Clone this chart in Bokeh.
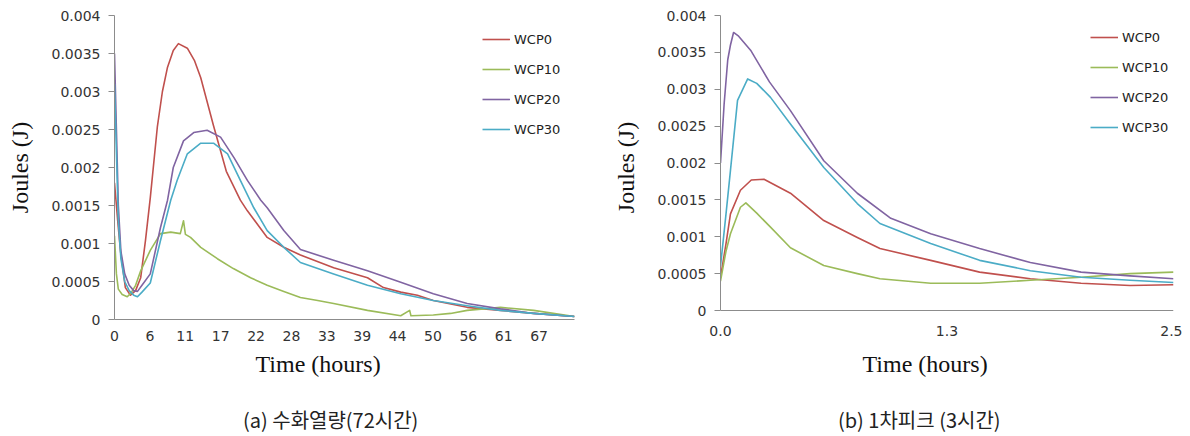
from bokeh.plotting import figure
from bokeh.layouts import row, column
from bokeh.models import Range1d, FixedTicker, Legend, LegendItem, Title, Span, Div
from bokeh.embed import file_html
from bokeh.resources import INLINE

# ---------------- data: (a) 72 hours ----------------
series_names = ["WCP0", "WCP10", "WCP20", "WCP30"]
colors = ["#C0504D", "#9BBB59", "#8064A2", "#4BACC6"]

a_t_wcp0 = [0, 0.5, 0.94, 1.7, 2.5, 3.3, 4.1, 4.85, 5.6, 6.7, 7.5, 8.3, 9.2, 10.0, 11.4, 12.5, 13.5, 15.5, 17.5,
            19.7, 20.8, 23.9, 26.5, 29.1, 34.3, 39.6, 42.1, 44.8, 47.4, 49.9, 55.2, 60.4, 65.6, 72]
a_v_wcp0 = [0.0018, 0.0013, 0.0009, 0.00042, 0.00032, 0.00038, 0.00055, 0.00104, 0.0016, 0.00253, 0.00300,
            0.00332, 0.00354, 0.00363, 0.00357, 0.00341, 0.00318, 0.00255, 0.00195, 0.00157, 0.00143, 0.00108,
            0.00095, 0.00085, 0.00068, 0.00055, 0.00042, 0.00036, 0.00032, 0.00025, 0.00016, 0.00012,
            0.00008, 0.00004]

a_t_wcp10 = [0, 0.3, 0.6, 1.2, 2.0, 2.6, 3.3, 4.1, 5.6, 7.2, 8.8, 10.3, 10.8, 11.1, 11.9, 13.5, 16.1, 18.6,
             21.3, 23.9, 26.5, 29.1, 31.8, 34.3, 39.6, 44.8, 46.2, 46.4, 49.9, 52.6, 55.2, 60.4, 65.6, 72]
a_v_wcp10 = [0.0011, 0.0006, 0.0004, 0.00033, 0.0003, 0.00035, 0.00045, 0.00064, 0.00091, 0.00113, 0.00115,
             0.00113, 0.0013, 0.00112, 0.00108, 0.00095, 0.0008, 0.00067, 0.00055, 0.00045, 0.00037, 0.00029,
             0.00025, 0.00021, 0.00012, 0.00005, 0.00012, 0.00005, 0.00006, 0.00008, 0.00012, 0.00016,
             0.00012, 0.00004]

a_t_wcp20 = [0, 0.3, 0.6, 1.0, 1.6, 2.3, 3.0, 3.6, 4.3, 5.6, 7.2, 8.3, 9.2, 10.8, 12.4, 14.5, 16.6, 18.7,
             20.8, 22.9, 23.9, 26.5, 29.1, 34.3, 39.6, 44.8, 49.9, 55.2, 60.4, 65.6, 72]
a_v_wcp20 = [0.0035, 0.0025, 0.0015, 0.0009, 0.0006, 0.00045, 0.00038, 0.00037, 0.00045, 0.0006, 0.00121,
             0.00157, 0.002, 0.00235, 0.00246, 0.00249, 0.0024, 0.00213, 0.00183, 0.00157, 0.00147, 0.00117,
             0.00092, 0.00078, 0.00064, 0.00049, 0.00034, 0.00021, 0.00014, 0.00008, 0.00004]

a_t_wcp30 = [0, 0.3, 0.6, 1.0, 1.6, 2.3, 3.0, 3.6, 4.3, 5.6, 7.2, 8.8, 9.8, 11.4, 13.5, 15.5, 17.7, 19.7,
             21.8, 23.9, 26.5, 29.1, 34.3, 39.6, 44.8, 49.9, 55.2, 60.4, 65.6, 72]
a_v_wcp30 = [0.0031, 0.0022, 0.0013, 0.0008, 0.0005, 0.00038, 0.00032, 0.0003, 0.00036, 0.00048, 0.00104,
             0.00157, 0.00183, 0.00218, 0.00232, 0.00232, 0.00218, 0.00183, 0.00147, 0.00117, 0.00095,
             0.00075, 0.0006, 0.00045, 0.00034, 0.00025, 0.00018, 0.00012, 0.00008, 0.00004]

a_tick_labels = ["0", "6", "11", "17", "22", "28", "33", "39", "44", "50", "56", "61", "67"]

# ---------------- data: (b) first peak ----------------
b_t_wcp0 = [0, 0.03, 0.055, 0.11, 0.17, 0.24, 0.386, 0.57, 0.755, 0.88, 1.16, 1.43, 1.71, 1.99, 2.26, 2.5]
b_v_wcp0 = [0.00045, 0.0009, 0.00131, 0.00163, 0.00177, 0.00178, 0.00159, 0.00122, 0.00099, 0.00084,
            0.00068, 0.00052, 0.00043, 0.00037, 0.00034, 0.00035]

b_t_wcp10 = [0, 0.03, 0.055, 0.11, 0.14, 0.2, 0.276, 0.386, 0.57, 0.755, 0.88, 1.16, 1.43, 1.71, 1.99, 2.26, 2.5]
b_v_wcp10 = [0.0004, 0.0008, 0.00104, 0.0014, 0.00146, 0.00132, 0.00113, 0.00085, 0.00061, 0.0005, 0.00043,
             0.00037, 0.00037, 0.00041, 0.00045, 0.0005, 0.00052]

b_t_wcp20 = [0, 0.02, 0.04, 0.055, 0.072, 0.1, 0.166, 0.27, 0.386, 0.57, 0.755, 0.94, 1.16, 1.43, 1.71, 1.99,
             2.26, 2.5]
b_v_wcp20 = [0.002, 0.0028, 0.0034, 0.0036, 0.00377, 0.00372, 0.00353, 0.0031, 0.00271, 0.00203, 0.00159,
             0.00125, 0.00104, 0.00084, 0.00065, 0.00052, 0.00047, 0.00043]

b_t_wcp30 = [0, 0.03, 0.055, 0.094, 0.15, 0.2, 0.276, 0.386, 0.57, 0.755, 0.88, 1.16, 1.43, 1.71, 1.99, 2.26, 2.5]
b_v_wcp30 = [0.0006, 0.0013, 0.0019, 0.00285, 0.00314, 0.00308, 0.00289, 0.00253, 0.00194, 0.00145, 0.00118,
             0.00091, 0.00068, 0.00054, 0.00045, 0.00041, 0.00038]

b_ticks = [0, 1.25, 2.5]
b_tick_labels = ["0.0", "1.3", "2.5"]

y_ticks = [0, 0.0005, 0.001, 0.0015, 0.002, 0.0025, 0.003, 0.0035, 0.004]
y_tick_labels = ["0", "0.0005", "0.001", "0.0015", "0.002", "0.0025", "0.003", "0.0035", "0.004"]

caption_a = "(a) 수화열량(72시간)"
caption_b = "(b) 1차피크 (3시간)"
x_title = "Time (hours)"
y_title = "Joules (J)"

TICK_FONT = "DejaVu Sans"
SERIF = "Liberation Serif"
KR = "Noto Sans CJK KR"
AXIS_GRAY = "#8c8c8c"


def style(p, xticks, xlabels):
    p.xgrid.visible = False
    p.ygrid.visible = False
    p.outline_line_color = None
    p.background_fill_color = "white"
    p.border_fill_color = "white"
    yax = p.yaxis[0]
    yax.ticker = FixedTicker(ticks=y_ticks)
    yax.major_label_overrides = {v: s for v, s in zip(y_ticks, y_tick_labels)}
    yax.bounds = (0, 0.004)
    yax.axis_line_color = AXIS_GRAY
    yax.major_tick_line_color = AXIS_GRAY
    yax.major_tick_out = 6
    yax.major_tick_in = 0
    yax.minor_tick_line_color = None
    yax.major_label_text_font = TICK_FONT
    yax.major_label_text_font_size = "14px"
    yax.major_label_text_color = "#333333"
    yax.major_label_standoff = 8
    yax.axis_label = y_title
    yax.axis_label_text_font = SERIF
    yax.axis_label_text_font_size = "24px"
    yax.axis_label_text_font_style = "normal"
    yax.axis_label_text_color = "#111111"
    yax.axis_label_standoff = 16
    xax = p.xaxis[0]
    xax.ticker = FixedTicker(ticks=xticks)
    xax.major_label_overrides = {v: s for v, s in zip(xticks, xlabels)}
    xax.axis_line_color = AXIS_GRAY
    xax.major_tick_line_color = None
    xax.major_tick_out = 0
    xax.major_tick_in = 0
    xax.minor_tick_line_color = None
    xax.major_label_text_font = TICK_FONT
    xax.major_label_text_font_size = "14px"
    xax.major_label_text_color = "#333333"


def add_lines(p, ts, vs):
    items = []
    for name, col, t, v in zip(series_names, colors, ts, vs):
        r = p.line(t, v, line_color=col, line_width=1.6, line_join="round")
        items.append(LegendItem(label=name, renderers=[r]))
    return items


def add_legend(p, items, loc):
    leg = Legend(items=items, location=loc, glyph_width=28, glyph_height=20, label_height=20,
                 spacing=10, padding=0, margin=0, label_standoff=4,
                 label_text_font=TICK_FONT, label_text_font_size="13px", label_text_color="#222222",
                 border_line_color=None, background_fill_alpha=0)
    p.add_layout(leg, "center")


def add_xtitle(p, off_title, st_title):
    p.add_layout(Title(text=x_title, align="left", offset=off_title, standoff=st_title,
                       text_font=SERIF, text_font_size="24px", text_font_style="normal",
                       text_color="#111111"), "below")


def caption_div(text, width, pad_left):
    html = ('<div style="margin:0; padding:16px 0 0 %dpx; font-family:\'%s\'; font-size:20px; '
            'line-height:24px; color:#222222; white-space:nowrap;">%s</div>') % (pad_left, KR, text)
    return Div(text=html, width=width, height=44, margin=0)


FIG_H = 392
# ---------------- figure (a) ----------------
a_ticks = [round(i * 72 / 13, 4) for i in range(13)]
p1 = figure(width=600, height=FIG_H, output_backend="svg", toolbar_location=None,
            x_range=Range1d(0, 72), y_range=Range1d(0, 0.004),
            min_border_left=114, min_border_right=26, min_border_top=15, min_border_bottom=FIG_H - 319)
style(p1, a_ticks, a_tick_labels)
p1.xaxis[0].major_label_standoff = 11
items1 = add_lines(p1, [a_t_wcp0, a_t_wcp10, a_t_wcp20, a_t_wcp30],
                   [a_v_wcp0, a_v_wcp10, a_v_wcp20, a_v_wcp30])
add_legend(p1, items1, (368, 180))
add_xtitle(p1, 141, 10)

# ---------------- figure (b) ----------------
p2 = figure(width=582, height=FIG_H, output_backend="svg", toolbar_location=None,
            x_range=Range1d(0, 2.5), y_range=Range1d(-0.000122, 0.004),
            min_border_left=120, min_border_right=9, min_border_top=15, min_border_bottom=FIG_H - 319)
style(p2, b_ticks, b_tick_labels)
p2.xaxis[0].axis_line_color = None
p2.xaxis[0].major_label_standoff = 6
p2.add_layout(Span(location=0, dimension="width", line_color=AXIS_GRAY, line_width=1))
items2 = add_lines(p2, [b_t_wcp0, b_t_wcp10, b_t_wcp20, b_t_wcp30],
                   [b_v_wcp0, b_v_wcp10, b_v_wcp20, b_v_wcp30])
add_legend(p2, items2, (370, 182))
add_xtitle(p2, 142, 20)

captions = row(caption_div(caption_a, 600, 243), caption_div(caption_b, 582, 238))
layout = column(row(p1, p2), captions)
open("out.html", "w").write(file_html(layout, INLINE))
